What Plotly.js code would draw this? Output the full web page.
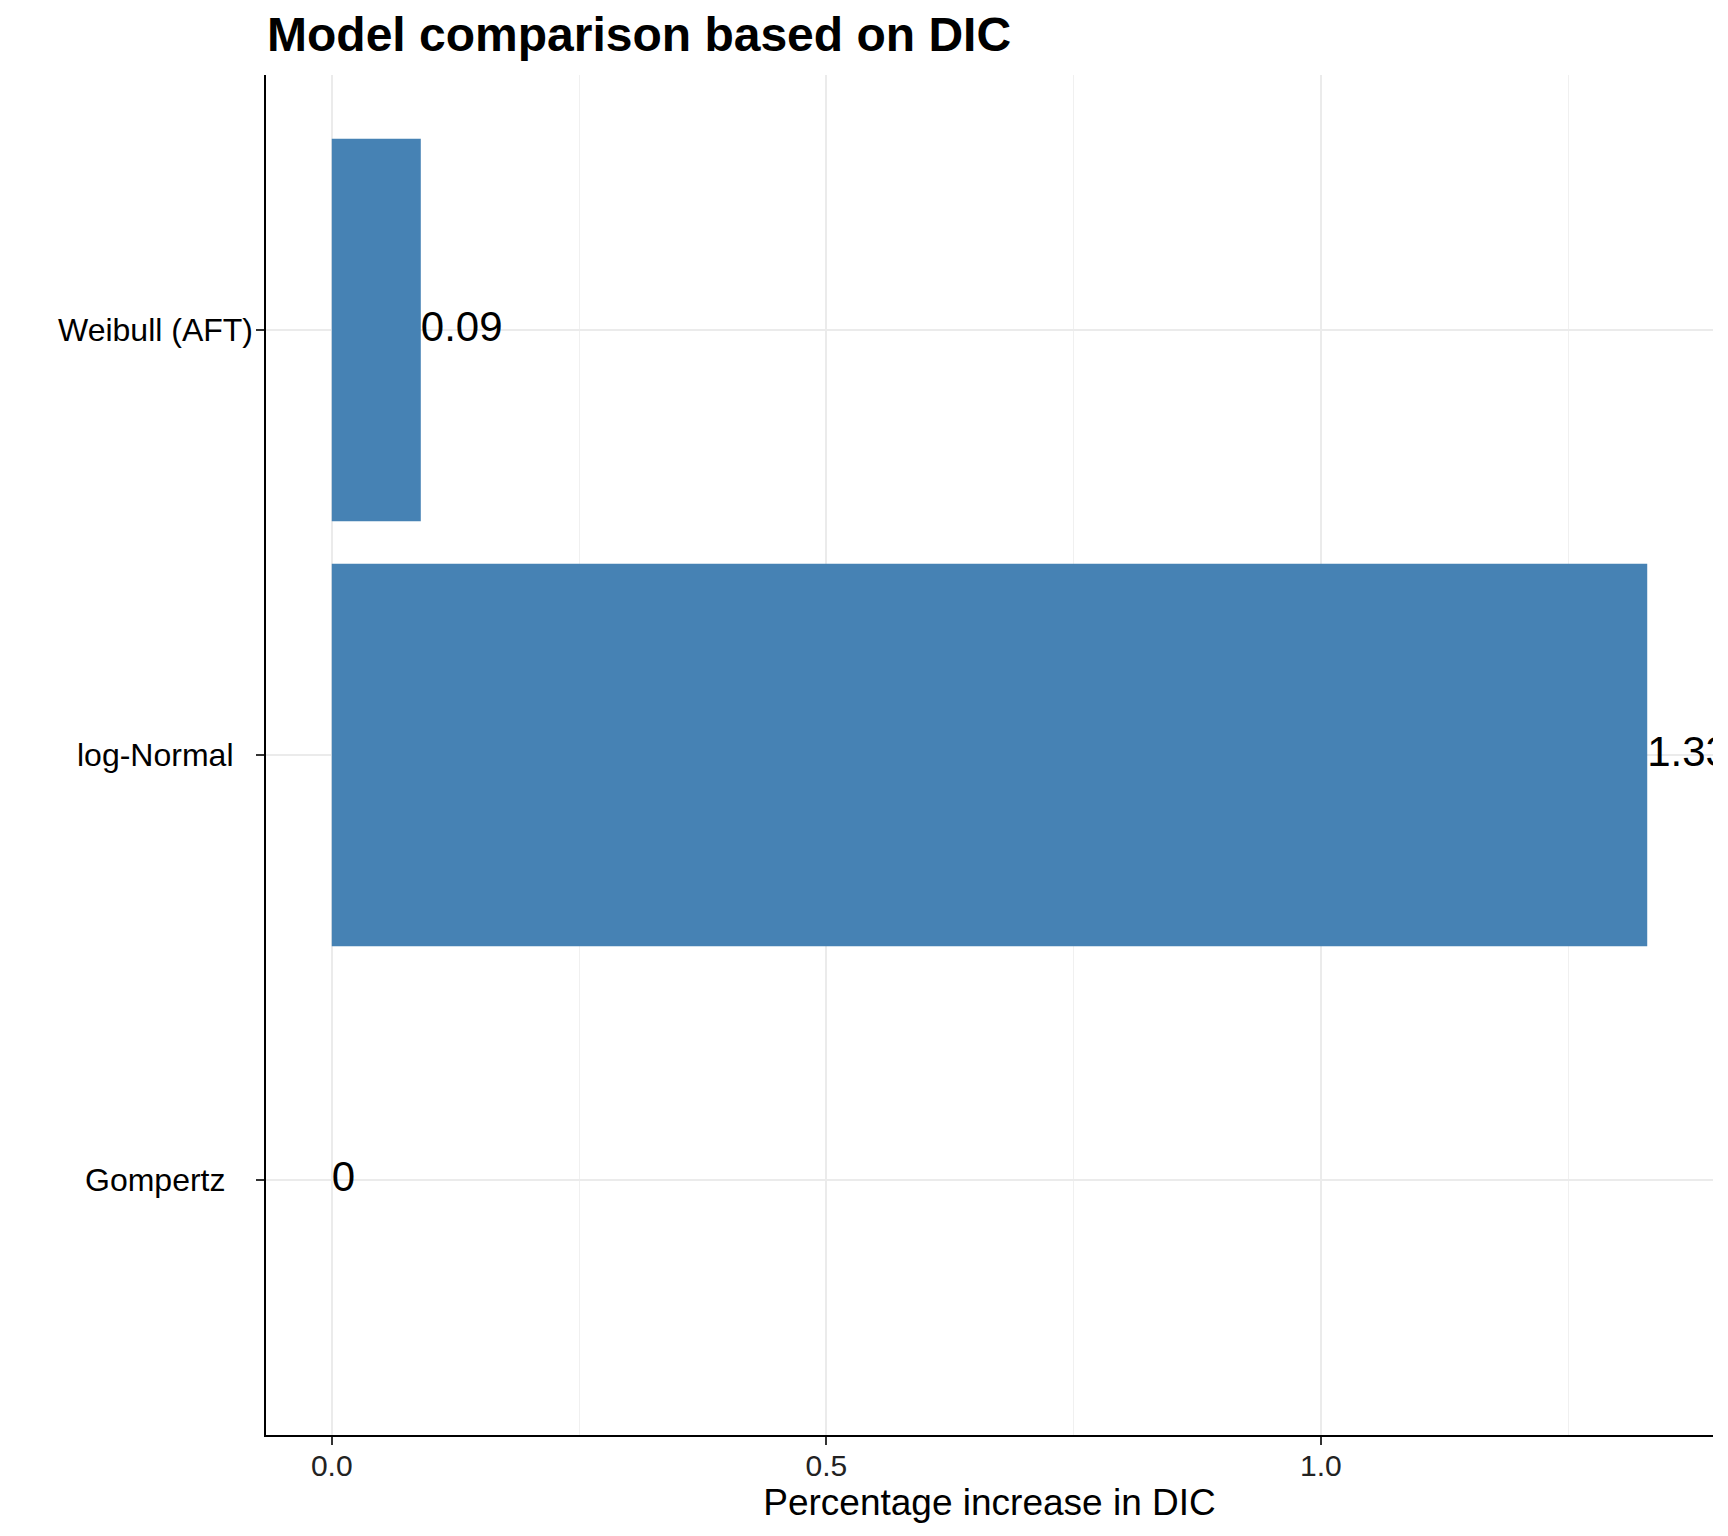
<!DOCTYPE html>
<html>
<head>
<meta charset="utf-8">
<script src="https://cdn.plot.ly/plotly-3.0.1.min.js"></script>
<style>html,body{margin:0;padding:0;background:#fff;}</style>
</head>
<body>
<div id="chart" style="width:1728px;height:1536px;"></div>
<script>
const models = ['Gompertz', 'log-Normal', 'Weibull (AFT)'];
const dicIncrease = [0, 1.33, 0.09];
const valueLabels = ['0', '1.33', '0.09'];
const xTickVals = [0, 0.5, 1.0];
const xTickText = ['0.0', '0.5', '1.0'];
const xMinorVals = [0.25, 0.75, 1.25];

const FONT = '"Liberation Sans", Arial, Helvetica, sans-serif';
const W = 1728, H = 1536;
const margin = {l: 266, r: 15, t: 75, b: 101};
const plotW = W - margin.l - margin.r;
const maxV = Math.max(...dicIncrease);

const traces = [
  {
    type: 'bar',
    orientation: 'h',
    y: models,
    x: dicIncrease,
    width: 0.9,
    marker: {color: '#4682B4', line: {width: 0}},
    hoverinfo: 'skip',
    showlegend: false
  },
  {
    type: 'scatter',
    mode: 'text',
    y: models,
    x: dicIncrease,
    text: valueLabels,
    textposition: 'middle right',
    textfont: {family: FONT, size: 42, color: '#000'},
    cliponaxis: true,
    hoverinfo: 'skip',
    showlegend: false
  }
];

const labelX = (155 - margin.l) / plotW;
const annotations = models.map(m => ({
  xref: 'paper', yref: 'y', x: labelX, y: m,
  text: m, showarrow: false, xanchor: 'center', yanchor: 'middle',
  font: {family: FONT, size: 32, color: '#000'}
}));

const layout = {
  width: W, height: H,
  margin: margin,
  paper_bgcolor: '#fff',
  plot_bgcolor: '#fff',
  font: {family: FONT, color: '#000'},
  title: {
    text: '<b>Model comparison based on DIC</b>',
    font: {family: FONT, size: 48, color: '#000'},
    xref: 'container', x: 267 / W, xanchor: 'left',
    yref: 'container', y: 1 - 17 / H, yanchor: 'top'
  },
  xaxis: {
    range: [-0.05 * maxV, 1.05 * maxV],
    tickvals: xTickVals,
    ticktext: xTickText,
    ticks: 'outside', ticklen: 8, tickwidth: 2, tickcolor: '#333',
    ticklabelstandoff: -5,
    tickfont: {family: FONT, size: 30, color: '#222'},
    showgrid: true, gridcolor: '#EBEBEB', gridwidth: 2,
    minor: {tickvals: xMinorVals, showgrid: true, gridcolor: '#F0F0F0', gridwidth: 1, ticks: ''},
    showline: true, linecolor: '#000', linewidth: 2,
    zeroline: false,
    title: {text: 'Percentage increase in DIC', font: {family: FONT, size: 37, color: '#000'}, standoff: 8}
  },
  yaxis: {
    type: 'category',
    categoryorder: 'array', categoryarray: models,
    range: [-0.6, 2.6],
    showticklabels: false,
    ticks: 'outside', ticklen: 8, tickwidth: 2, tickcolor: '#333',
    showgrid: true, gridcolor: '#EBEBEB', gridwidth: 2,
    showline: true, linecolor: '#000', linewidth: 2,
    zeroline: false
  },
  annotations: annotations,
  bargap: 0.1
};

Plotly.newPlot('chart', traces, layout, {displayModeBar: false, staticPlot: true});
</script>
</body>
</html>
